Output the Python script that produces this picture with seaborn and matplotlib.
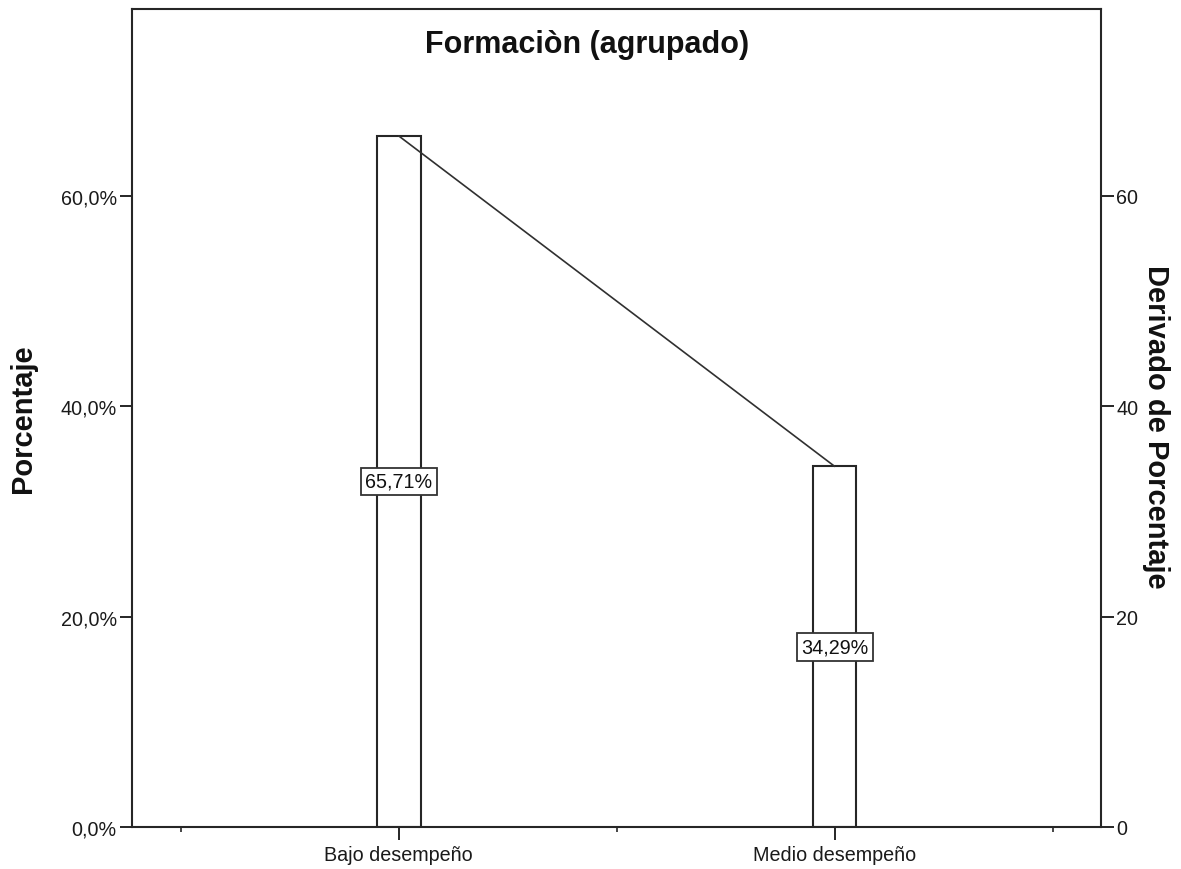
import numpy as np
import pandas as pd
import matplotlib
matplotlib.use("Agg")
import matplotlib.pyplot as plt
import seaborn as sns
from matplotlib.ticker import FixedLocator, FuncFormatter

# Data
categories = ["Bajo desempeño", "Medio desempeño"]
percentages = [65.71, 34.29]
left_ticks = [0, 20, 40, 60]
right_ticks = [0, 20, 40, 60]

sns.set_theme(style="white")
plt.rcParams["font.family"] = ["Liberation Sans", "DejaVu Sans"]

df = pd.DataFrame({"Formacion": categories, "Porcentaje": percentages})

fig = plt.figure(figsize=(11.81, 8.70), dpi=100)
ax = fig.add_axes([132 / 1181, 42 / 870, 969 / 1181, 818 / 870])

edge = "#262626"
sns.barplot(data=df, x="Formacion", y="Porcentaje", ax=ax, width=0.1,
            color="white", edgecolor=edge, linewidth=1.5, saturation=1)

# line joining the bar tops
xpos = np.arange(len(categories))
ax.plot(xpos, percentages, color="#303030", lw=1.2, zorder=3)

# value labels at mid-height of each bar
for x, v in zip(xpos, percentages):
    ax.text(x, v / 2, f"{v:.2f}%".replace(".", ","), ha="center", va="center",
            fontsize=14.2, color="#111111", zorder=4,
            bbox=dict(boxstyle="square,pad=0.22", fc="white", ec="#333333", lw=1.3))

ymax = 77.78
ax.set_xlim(-0.612, 1.611)
ax.set_ylim(0, ymax)

ax.yaxis.set_major_locator(FixedLocator(left_ticks))
ax.yaxis.set_major_formatter(FuncFormatter(lambda v, p: f"{v:.1f}%".replace(".", ",")))
ax.xaxis.set_minor_locator(FixedLocator([-0.5, 0.5, 1.5]))

ax.tick_params(axis="y", which="major", direction="out", length=9, width=1.4,
               color=edge, labelsize=14.2, labelcolor="#1a1a1a", pad=2, left=True)
ax.tick_params(axis="x", which="major", direction="out", length=9, width=1.4,
               color=edge, labelsize=14.2, labelcolor="#1a1a1a", pad=4, bottom=True)
ax.tick_params(axis="x", which="minor", direction="out", length=3.5, width=1.2,
               color=edge, bottom=True)

ax.set_xlabel("")
ax.set_ylabel("Porcentaje", fontsize=21, fontweight="bold", color="#111111",
              va="center")
ax.yaxis.set_label_coords(-0.113, 0.5)

for s in ax.spines.values():
    s.set_visible(True)
    s.set_color(edge)
    s.set_linewidth(1.5)

# secondary axis on the right
ax2 = ax.twinx()
ax2.set_ylim(0, ymax)
ax2.yaxis.set_major_locator(FixedLocator(right_ticks))
ax2.yaxis.set_major_formatter(FuncFormatter(lambda v, p: f"{v:.0f}"))
ax2.tick_params(axis="y", which="major", direction="out", length=9, width=1.4,
                color=edge, labelsize=14.2, labelcolor="#1a1a1a", pad=2, right=True)
ax2.set_ylabel("Derivado de Porcentaje", fontsize=21, fontweight="bold",
               color="#111111", rotation=270, va="center")
ax2.yaxis.set_label_coords(1.057, 0.49)
ax2.grid(False)
for s in ax2.spines.values():
    s.set_visible(False)

fig.text(0.497, 1 - 45 / 870, "Formaciòn (agrupado)", ha="center", va="center",
         fontsize=22, fontweight="bold", color="#111111")

fig.savefig("out.png", dpi=100, facecolor="white")
